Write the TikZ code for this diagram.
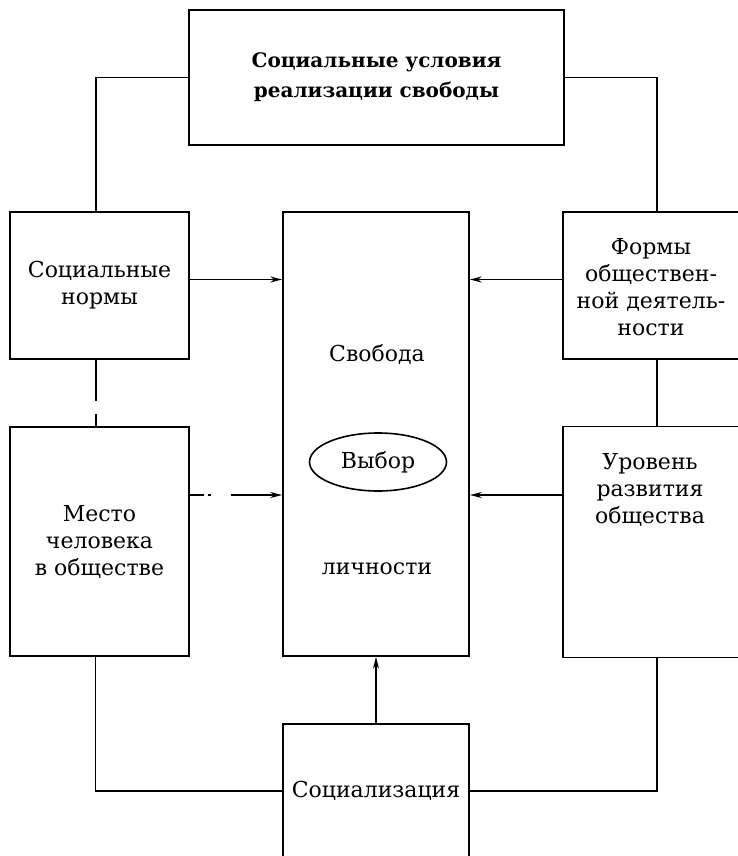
\documentclass[tikz,border=0pt]{standalone}
\usepackage{fontspec}
\setmainfont{DejaVu Serif}
\usetikzlibrary{arrows.meta,shapes.geometric,calc}

\begin{document}
\begin{tikzpicture}[x=1pt,y=-1pt,>={Stealth[length=12pt,width=6pt]},
  box/.style={draw,line width=1.6pt,inner sep=0pt,align=center},
  lnk/.style={line width=1.6pt},
  txt/.style={align=center,font=\fontsize{22}{27}\selectfont}]
\useasboundingbox (0,0) rectangle (737,856);
% --- top box ---
\node[box,align=center,font=\fontsize{20}{30}\selectfont\bfseries,
  minimum width=375pt,minimum height=135pt] (cond) at (376.5,77.5)
  {Социальные условия\\реализации свободы};
% --- side boxes ---
\node[box,txt,minimum width=179pt,minimum height=147pt] (norms) at (99.5,285.5)
  {Социальные\\нормы};
\node[box,txt,minimum width=179pt,minimum height=229pt] (place) at (99.5,541.5)
  {Место\\человека\\в обществе};
\node[box,minimum width=178pt,minimum height=147pt] (forms) at (652,285.5) {};
\node[txt] (formst) at (651,287) {Формы\\обществен-\\ной деятель-\\ности};
\node[box,minimum width=178pt,minimum height=231pt] (level) at (652,542) {};
\node[txt] (levelt) at (650,490) {Уровень\\развития\\общества};
% --- centre ---
\node[box,minimum width=186pt,minimum height=444pt] (free) at (376,434) {};
\node[txt] (freet) at (377,354) {Свобода};
\node[draw,ellipse,line width=1.6pt,txt,minimum width=137pt,minimum height=58pt]
  (choice) at (378,462) {Выбор};
\node[txt] (perst) at (377,569) {личности};
\node[box,txt,minimum width=186pt,minimum height=134pt] (soc) at (376,791)
  {Социализация};

% outer frame of links
\draw[lnk] (cond.west) -| ($(norms.north)+(-3.5,0)$);
\draw[lnk] (cond.east) -| ($(forms.north)+(5,0)$);
\draw[lnk,dash pattern=on 41pt off 13pt on 20pt]
  ($(norms.south)+(-3.5,0)$) -- ($(place.north)+(-3.5,0)$);
\draw[lnk] ($(forms.south)+(5,0)$) -- ($(level.north)+(5,0)$);
\draw[lnk] ($(place.south)+(-4,0)$) |- (soc.west);
\draw[lnk] ($(level.south)+(5,0)$) |- (soc.east);
% arrows into the centre
\draw[lnk,->] ($(norms.east)+(0,-6)$) coordinate (a1) -- (a1 -| free.west);
\draw[lnk,->] ($(forms.west)+(0,-6)$) coordinate (a2) -- (a2 -| free.east);
\draw[lnk,->,dash pattern=on 14pt off 4pt on 3pt off 20pt on 60pt]
  ($(place.east)+(0,-46.5)$) coordinate (a3) -- (a3 -| free.west);
\draw[lnk,->] ($(level.west)+(0,-47)$) coordinate (a4) -- (a4 -| free.east);
\draw[lnk,->] (soc.north) -- (free.south);
\end{tikzpicture}
\end{document}
